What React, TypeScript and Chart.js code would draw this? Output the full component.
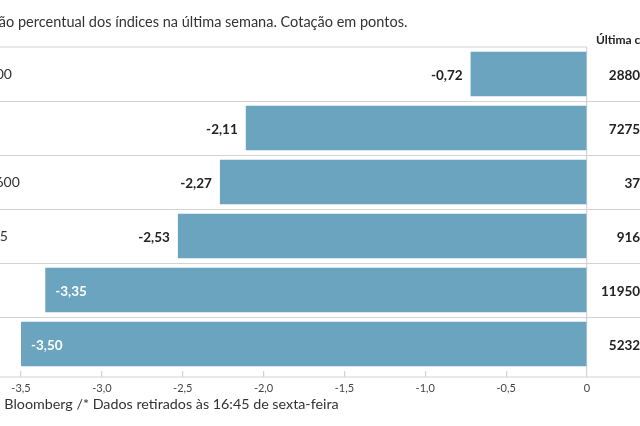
import React, { useEffect, useRef } from "react";
import { Chart, registerables } from "chart.js";

Chart.register(...registerables);

const categories = ["S&P 500", "FTSE", "Stoxx 600", "IBEX 35", "DAX", "PSI 20"];
const weeklyChange = [-0.72, -2.11, -2.27, -2.53, -3.35, -3.5];
const lastQuote = ["2880,31", "7275,42", "372,6", "9160,5", "11950,35", "5232,47"];
const xTicks = [-3.5, -3.0, -2.5, -2.0, -1.5, -1.0, -0.5, 0];
const titleText = "Variação percentual dos índices na última semana. Cotação em pontos.";
const headerText = "Última cotação";
const footerText = "Fonte: Bloomberg /* Dados retirados às 16:45 de sexta-feira";

const FONT = "Lato, 'Open Sans', sans-serif";
const BAR = "rgb(106,164,191)";
const LINE = "#d3d3d3";
const OFFSET = 110;
const CW = 840;
const CH = 426;

const fmt = (v: number) => (v === 0 ? "0" : v.toFixed(2).replace(".", ","));

const decor = {
  id: "decor",
  beforeDatasetsDraw(chart: any) {
    const { ctx, chartArea, scales } = chart;
    const y = scales.y;
    const x = scales.x;
    const rowH = y.getPixelForValue(1) - y.getPixelForValue(0);
    ctx.save();
    ctx.strokeStyle = LINE;
    ctx.lineWidth = 1.2;
    ctx.beginPath();
    ctx.moveTo(0, chartArea.top);
    ctx.lineTo(x.getPixelForValue(0), chartArea.top);
    ctx.stroke();
    for (let i = 1; i < categories.length; i++) {
      const yy = Math.round(y.getPixelForValue(i) - rowH / 2) + 0.5;
      ctx.beginPath();
      ctx.moveTo(0, yy);
      ctx.lineTo(CW, yy);
      ctx.stroke();
    }
    const by = x.top + 6;
    ctx.beginPath();
    ctx.moveTo(0, by);
    ctx.lineTo(CW, by);
    ctx.stroke();
    ctx.restore();
  },
  afterDatasetsDraw(chart: any) {
    const { ctx, chartArea, scales } = chart;
    const y = scales.y;
    const x = scales.x;
    ctx.save();
    ctx.textBaseline = "middle";
    ctx.font = `bold 13.5px ${FONT}`;
    weeklyChange.forEach((v, i) => {
      const px = x.getPixelForValue(v);
      const py = y.getPixelForValue(i) + 2;
      if (v < -3) {
        ctx.fillStyle = "#ffffff";
        ctx.textAlign = "left";
        ctx.fillText(fmt(v), px + 10, py);
      } else {
        ctx.fillStyle = "#222222";
        ctx.textAlign = "right";
        ctx.fillText(fmt(v), px - 8, py);
      }
    });
    ctx.fillStyle = "#222222";
    ctx.textAlign = "right";
    lastQuote.forEach((q, i) => {
      ctx.fillText(q, chartArea.right + 72, y.getPixelForValue(i) + 2);
    });
    ctx.font = `bold 12px ${FONT}`;
    ctx.textAlign = "left";
    ctx.fillText(headerText, chartArea.right + 9, 40);
    ctx.font = `14.5px ${FONT}`;
    ctx.fillStyle = "#333333";
    ctx.fillText(titleText, 70, 22);
    ctx.font = `14.3px ${FONT}`;
    ctx.fillText(footerText, 71, 404);
    ctx.restore();
  },
};

export default function App() {
  const ref = useRef<HTMLCanvasElement | null>(null);

  useEffect(() => {
    if (!ref.current) return;
    const chart = new Chart(ref.current, {
      type: "bar",
      data: {
        labels: categories,
        datasets: [
          {
            data: weeklyChange,
            backgroundColor: BAR,
            borderWidth: 0,
            barPercentage: 0.82,
            categoryPercentage: 1,
          },
        ],
      },
      options: {
        indexAxis: "y",
        animation: false,
        responsive: false,
        devicePixelRatio: 1,
        layout: { padding: { left: 68, right: CW - 697, top: 47, bottom: 0 } },
        plugins: {
          legend: { display: false },
          tooltip: { enabled: false },
        },
        scales: {
          x: {
            type: "linear",
            min: -3.5,
            max: 0,
            afterFit: (s: any) => {
              s.height = 55;
            },
            afterBuildTicks: (s: any) => {
              s.ticks = xTicks.map((v) => ({ value: v }));
            },
            border: { display: false },
            grid: {
              drawOnChartArea: true,
              color: (c: any) => (c.tick && c.tick.value === 0 ? LINE : "rgba(0,0,0,0)"),
              tickColor: LINE,
              tickLength: 6,
              lineWidth: 1.2,
            },
            ticks: {
              autoSkip: false,
              maxRotation: 0,
              padding: 5,
              color: "#444444",
              font: { family: FONT, size: 11 },
              callback: (v: any) => (Number(v) === 0 ? "0" : Number(v).toFixed(1).replace(".", ",")),
            },
          },
          y: {
            type: "category",
            afterFit: (s: any) => {
              s.width = 63;
            },
            border: { display: false },
            grid: { display: false, drawTicks: false },
            ticks: {
              crossAlign: "far",
              padding: 0,
              color: "#333333",
              font: { family: FONT, size: 14 },
            },
          },
        },
      },
      plugins: [decor],
    });
    return () => chart.destroy();
  }, []);

  return (
    <div
      style={{
        position: "fixed",
        left: 0,
        top: 0,
        width: 640,
        height: 426,
        overflow: "hidden",
        background: "#ffffff",
      }}
    >
      <canvas
        ref={ref}
        width={CW}
        height={CH}
        style={{ position: "absolute", left: -OFFSET, top: 0, width: CW, height: CH }}
      />
    </div>
  );
}
